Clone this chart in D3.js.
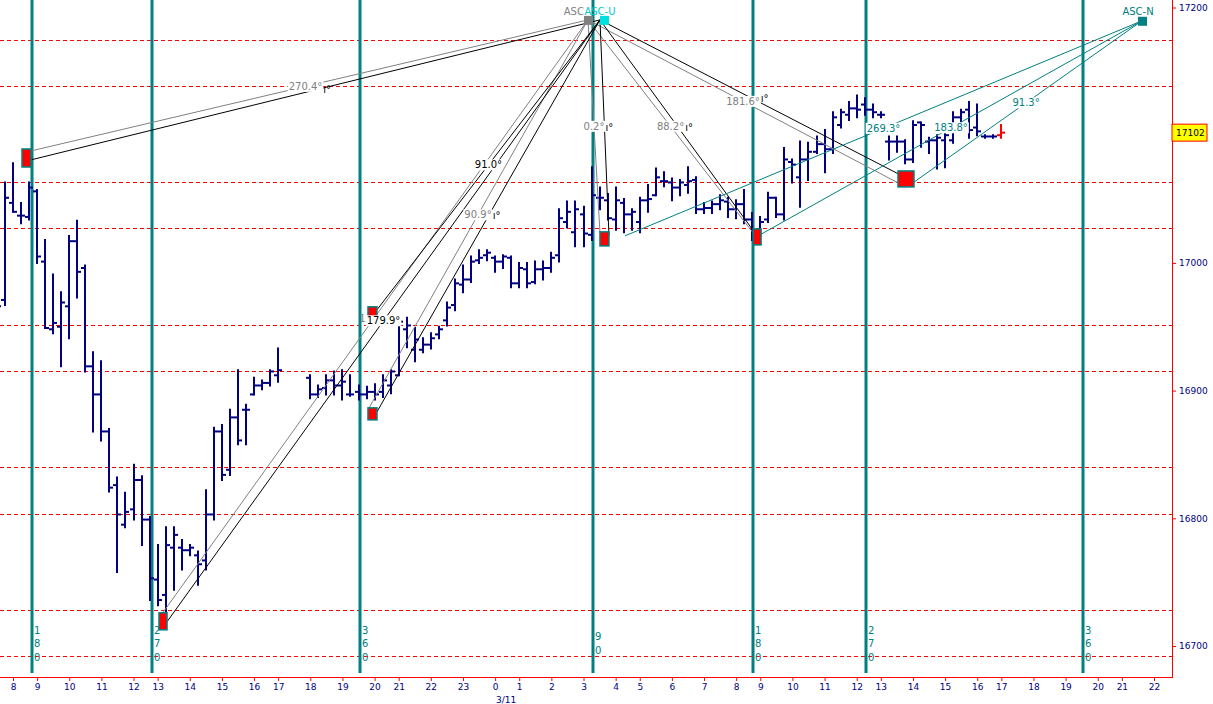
<!DOCTYPE html>
<html><head><meta charset="utf-8">
<script src="https://cdn.jsdelivr.net/npm/d3@7"></script>
<style>body{margin:0;background:#fff;overflow:hidden}svg{display:block}</style>
</head><body>
<script>
// ---------- DATA ----------
const hourIdx = [0,3,7,11,15,18,22,26,30,33,37,41,45,48,52,56,60,63,67,71,75,78,82,86,90,93,97,101,105,108,112,116,120,123,127,131,135,138,142];
const hourLabels = ["8","9","10","11","12","13","14","15","16","17","18","19","20","21","22","23","0","1","2","3","4","5","6","7","8","9","10","11","12","13","14","15","16","17","18","19","20","21","22"];
const dateLabel = "3/11";
const dateIdx = 60;
const priceTicks = [16700,16800,16900,17000,17200];
const lastPrice = 17102;

const barStart = -2;
const barOpen  = [17002,16971,17047,17037,17036,17056,17001,16948,16950,16966,17017,16996,16919,16897,16868,16826,16795,16807,16830,16799,16752,16740,16777,16777,16775,16771,16767,16803,16868,16838,16879,16885,16897,16904,16906,16912,null,null,null,16910,16897,16902,16908,16904,16897,16899,16897,16899,16899,16904,16912,16948,16932,16932,16936,16944,16955,16967,16983,16987,17002,17006,17004,17001,17004,16984,16995,16985,16995,16996,17006,17032,17024,17038,17022,17051,17049,17034,17047,17038,17032,17049,17053,17064,17063,17059,17061,17065,17042,17043,17046,17048,17042,17046,17034,17022,17034,17051,17038,17079,17067,17081,17087,17093,17089,17108,17116,17121,17124,17120,17116,17095,17095,17095,17081,17110,17095,17096,17096,17096,17114,17120,17106,17099,17099,17100];
const barHigh  = [17030,17063,17078,17047,17063,17057,17018,16991,16977,17021,17033,16998,16930,16923,16870,16832,16820,16842,16833,16801,16779,16793,16793,16783,16779,16774,16822,16871,16873,16885,16916,16889,16910,16908,16916,16933,null,null,null,16912,16904,16912,16915,16916,16912,16904,16903,16905,16912,16916,16956,16957,16949,16941,16945,16950,16969,16987,16998,17005,17010,17010,17005,17006,17005,17000,17000,17001,17001,17008,17042,17048,17048,17044,17075,17059,17054,17059,17050,17042,17051,17061,17074,17071,17066,17065,17075,17067,17047,17048,17053,17051,17049,17057,17039,17036,17055,17051,17090,17081,17095,17094,17099,17104,17118,17120,17126,17131,17129,17124,17118,17099,17099,17096,17111,17110,17098,17100,17104,17118,17120,17126,17124,17100,17100,17108];
const barLow   = [16963,16967,17040,17031,17034,17000,16949,16945,16919,16941,16973,16915,16868,16861,16821,16758,16793,16799,16779,16736,16732,16727,16744,16760,16771,16748,16760,16799,16830,16834,16858,16858,16897,16901,16904,16907,null,null,null,16894,16895,16897,16897,16893,16896,16893,16894,16893,16895,16898,16912,16934,16923,16930,16933,16941,16951,16963,16977,16985,17000,17002,16993,16996,16981,16981,16981,16984,16987,16993,17001,17028,17013,17013,17018,17042,17034,17026,17024,17026,17024,17040,17053,17060,17049,17053,17055,17039,17039,17039,17042,17036,17035,17031,17018,17020,17032,17036,17034,17063,17044,17065,17086,17071,17086,17106,17112,17114,17116,17114,17114,17081,17087,17078,17079,17091,17086,17074,17075,17094,17104,17098,17100,17098,17098,17098];
const barClose = [16966,17051,17040,17037,17059,17005,16949,16953,16969,17017,16993,16919,16897,16868,16824,16803,16805,16830,16799,16753,16736,16779,16787,16775,16777,16764,16803,16868,16834,16879,16861,16885,16904,16906,16915,16916,null,null,null,16897,16901,16908,16904,16907,16897,16897,16899,16897,16908,16915,16954,16951,16940,16936,16941,16948,16965,16984,16987,17001,17004,17008,17001,17005,16984,16996,16984,16995,16996,17004,17035,17040,17042,17023,17053,17051,17035,17049,17038,17040,17049,17050,17067,17064,17059,17063,17064,17042,17043,17046,17049,17042,17046,17034,17020,17032,17051,17038,17081,17077,17081,17087,17093,17089,17114,17118,17121,17120,17120,17118,17116,17095,17095,17081,17108,17108,17096,17098,17100,17114,17118,17104,17103,17099,17099,17102];

const gridLevels = [17174.7,17138.7,17063.5,17027.5,16951.5,16915.5,16840.3,16803.5,16728.4,16692.4];

const cycleIdx = [2.36,17.3,43.19,72.18,92.1,106.16,133.17];
const cycleLabels = ["180","270","360","90","180","270","360"];

// pivot boxes: [idxFrom, idxTo, priceTop, priceBottom]
const pivotBoxes = [[1.12,2.24,17089.2,17075.1],[18.17,19.17,16726.0,16712.7],[44.18,45.3,16965.6,16957.7],[44.18,45.3,16886.5,16877.1],[73.05,74.17,17024.3,17013.3],[92.1,93.1,17026.6,17014.1],[110.14,112.13,17072.0,17059.5]];

// ASC drawings
const ascGrayApex = [71.56,17190.3];
const ascBlackApex = [73.05,17190.3];
const ascNApex = [140.51,17189.6];
const ascUName = "ASC-U", ascNName = "ASC-N";
const grayEnds = [[1.24,17086.2],[18.29,16722.9],[44.18,16885.0],[73.05,17023.6],[92.1,17023.6],[110.14,17062.7]];
const grayAngles = ["270.4°","180.2°","90.9°","0.2°","88.2°","181.6°"];
const blackEnds = [[2.24,17080.7],[19.17,16719.0],[45.3,16883.4],[45.3,16963.3],[74.17,17021.2],[92.6,17021.2],[111.14,17066.6]];
const blackAngles = ["269.8°","179.9°","90.8°","91.0°","0.1°","88.0°","181.5°"];
// label pairs that sit on each other: [grayIndex, blackIndex, label on top]
const labelPairs = [[0,0,"gray"],[1,1,"black"],[2,2,"gray"],[3,4,"gray"],[4,5,"gray"],[5,6,"gray"]];
const blackSolo = [3];
const tealEnds = [[76.17,17021.2],[92.97,17022.0],[111.64,17061.1]];
const tealAngles = ["269.3°","183.8°","91.3°"];

// ---------- DRAW ----------
const W = 1213, H = 704, plotR = 1172, axisY = 677;
const NAVY = "#000080", TEAL = "#008080", RED = "#ff0000", GRAY = "#808080";
const FONT = "DejaVu Sans";

const x = d3.scaleLinear().domain([0,142]).range([13,1154]);
const y = d3.scaleLinear().domain([16700,17200]).range([646,7.5]);

const svg = d3.select("body").append("svg").attr("width",W).attr("height",H)
  .style("font-family",FONT);
svg.append("rect").attr("width",W).attr("height",H).attr("fill","#fff");
svg.append("clipPath").attr("id","clip").append("rect")
  .attr("x",0).attr("y",0).attr("width",plotR).attr("height",axisY);
const plot = svg.append("g").attr("clip-path","url(#clip)");

// grid dashed
plot.selectAll("line.grid").data(gridLevels).join("line")
  .attr("x1",0).attr("x2",plotR)
  .attr("y1",d=>Math.round(y(d))+0.5).attr("y2",d=>Math.round(y(d))+0.5)
  .attr("stroke",RED).attr("stroke-width",1).attr("stroke-dasharray","4,3");

// cycle verticals
plot.selectAll("line.cyc").data(cycleIdx).join("line")
  .attr("x1",d=>Math.round(x(d))).attr("x2",d=>Math.round(x(d)))
  .attr("y1",0).attr("y2",673)
  .attr("stroke",TEAL).attr("stroke-width",3);

// cycle labels stacked
cycleIdx.forEach((ci,k)=>{
  const s = cycleLabels[k].split("");
  s.forEach((ch,j)=>{
    svg.append("text").attr("x",Math.round(x(ci))+2).attr("y",643+(j-(s.length-1)/2)*13.5+4)
      .attr("fill",TEAL).attr("font-size",10).text(ch);
  });
});

// OHLC bars
const bars = barOpen.map((o,k)=>({i:barStart+k,o,h:barHigh[k],l:barLow[k],c:barClose[k]})).filter(d=>d.o!==null);
const lastI = bars[bars.length-1].i;
const bg = plot.append("g");
bars.forEach(d=>{
  const cx = Math.round(x(d.i));
  const col = d.i===lastI ? RED : NAVY;
  bg.append("line").attr("x1",cx).attr("x2",cx).attr("y1",y(d.h)-1).attr("y2",y(d.l)+1)
    .attr("stroke",col).attr("stroke-width",2);
  bg.append("line").attr("x1",cx-4).attr("x2",cx).attr("y1",y(d.o)).attr("y2",y(d.o))
    .attr("stroke",col).attr("stroke-width",2);
  bg.append("line").attr("x1",cx).attr("x2",cx+4).attr("y1",y(d.c)).attr("y2",y(d.c))
    .attr("stroke",col).attr("stroke-width",2);
});

// ASC lines
function drawLines(apex, ends, color){
  plot.selectAll(null).data(ends).join("line")
    .attr("x1",x(apex[0])).attr("y1",y(apex[1]))
    .attr("x2",d=>x(d[0])).attr("y2",d=>y(d[1]))
    .attr("stroke",color).attr("stroke-width",1);
}
drawLines(ascGrayApex, grayEnds, GRAY);
drawLines(ascBlackApex, blackEnds, "#000");
drawLines(ascNApex, tealEnds, TEAL);

// pivot boxes
const pb = plot.append("g");
pb.selectAll("rect.o").data(pivotBoxes).join("rect")
  .attr("x",d=>x(d[0])).attr("width",d=>x(d[1])-x(d[0]))
  .attr("y",d=>y(d[2])).attr("height",d=>y(d[3])-y(d[2]))
  .attr("fill",RED).attr("stroke",TEAL).attr("stroke-width",1.5);

// apex squares
function apexSq(p, color, dx){
  plot.append("rect").attr("x",x(p[0])+dx).attr("y",y(p[1])-4).attr("width",9).attr("height",9).attr("fill",color);
}
apexSq(ascGrayApex,GRAY,-4);
apexSq(ascBlackApex,"#00e0e0",0);
apexSq(ascNApex,TEAL,-4);

// labels with white background
const lg = svg.append("g");
function mid(apex,end){ return [(x(apex[0])+x(end[0]))/2, (y(apex[1])+y(end[1]))/2]; }
function label(pos, txt, color, anchor){
  const g = lg.append("g");
  const t = g.append("text").attr("x",pos[0]).attr("y",pos[1]).attr("text-anchor",anchor||"middle")
    .attr("dominant-baseline","central").attr("font-size",10).attr("fill",color).text(txt);
  const b = t.node().getBBox();
  g.insert("rect","text").attr("x",b.x-1).attr("y",b.y).attr("width",b.width+2).attr("height",b.height).attr("fill","#fff");
  return b;
}
labelPairs.forEach(([gi,bi,top])=>{
  const gm = mid(ascGrayApex,grayEnds[gi]), bm = mid(ascBlackApex,blackEnds[bi]);
  if(top==="gray"){
    const b = label(gm, grayAngles[gi], GRAY);
    // only the tail of the black label shows past the gray one
    lg.append("text").attr("x",b.x+b.width+1).attr("y",bm[1]).attr("dominant-baseline","central")
      .attr("font-size",10).attr("fill","#000").text("ı°");
  } else {
    const b = label(bm, blackAngles[bi], "#000");
    lg.append("text").attr("x",b.x-1).attr("y",gm[1]).attr("text-anchor","end").attr("dominant-baseline","central")
      .attr("font-size",10).attr("fill",GRAY).text(grayAngles[gi].charAt(0));
  }
});
blackSolo.forEach(bi=>label(mid(ascBlackApex,blackEnds[bi]), blackAngles[bi], "#000"));
tealEnds.forEach((e,k)=>label(mid(ascNApex,e), tealAngles[k], TEAL));

// apex names: the cyan name covers most of the gray one, only "ASC" of the gray shows
const cyanName = svg.append("text").attr("x",x(ascBlackApex[0])).attr("y",15).attr("text-anchor","middle")
  .attr("font-size",10).attr("fill","#00c8c8").text(ascUName);
const cb = cyanName.node().getBBox();
svg.append("text").attr("x",cb.x-0.5).attr("y",15).attr("text-anchor","end").attr("font-size",10)
  .attr("fill",GRAY).text(ascUName.slice(0,3));
svg.append("text").attr("x",x(ascNApex[0])-4).attr("y",15).attr("text-anchor","middle").attr("font-size",10).attr("fill",TEAL).text(ascNName);

// axes
svg.append("line").attr("x1",0).attr("x2",plotR+1).attr("y1",axisY+0.5).attr("y2",axisY+0.5).attr("stroke",RED);
svg.append("line").attr("x1",plotR+0.5).attr("x2",plotR+0.5).attr("y1",0).attr("y2",axisY+1).attr("stroke",RED);

const xAxis = svg.append("g").attr("transform",`translate(0,${axisY})`)
  .call(d3.axisBottom(x).tickValues(hourIdx).tickFormat((d,k)=>hourLabels[k]).tickSize(4));
xAxis.select(".domain").remove();
xAxis.selectAll("line").attr("stroke",RED);
xAxis.selectAll("text").attr("fill",NAVY).attr("font-size",9).attr("font-family",FONT);

svg.append("text").attr("x",x(dateIdx)+11).attr("y",703).attr("text-anchor","middle")
  .attr("font-size",9).attr("fill",NAVY).text(dateLabel);

const yAxis = svg.append("g").attr("transform",`translate(${plotR},0)`)
  .call(d3.axisRight(y).tickValues(priceTicks).tickFormat(d3.format("d")).tickSize(4));
yAxis.select(".domain").remove();
yAxis.selectAll("line").attr("stroke",RED);
yAxis.selectAll("text").attr("fill",NAVY).attr("font-size",9).attr("font-family",FONT);

// last price box
const lpY = y(lastPrice);
svg.append("rect").attr("x",plotR).attr("y",lpY-8.5).attr("width",35).attr("height",17)
  .attr("fill","#ffff00").attr("stroke",RED).attr("stroke-width",1);
svg.append("text").attr("x",plotR+4).attr("y",lpY).attr("dominant-baseline","central")
  .attr("font-size",9).attr("fill","#000").text(lastPrice);
</script>
</body></html>
